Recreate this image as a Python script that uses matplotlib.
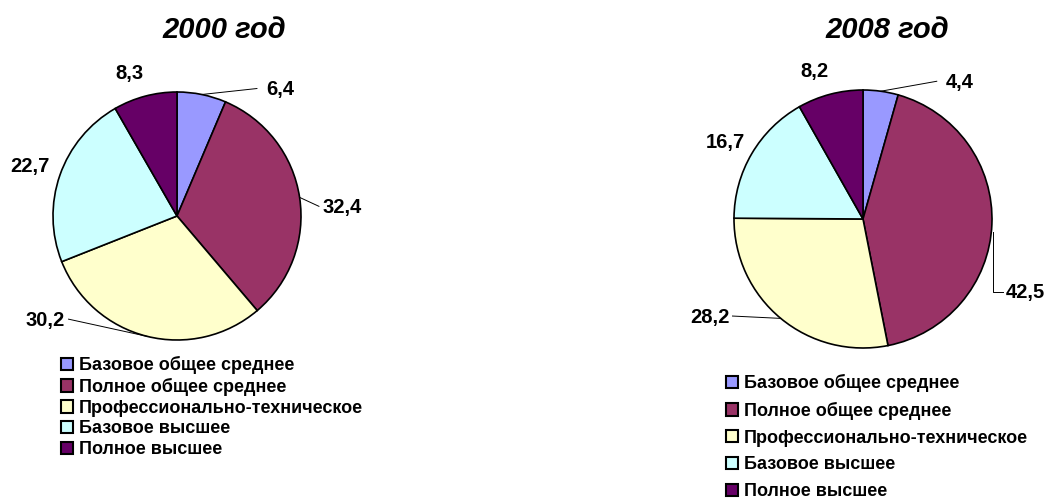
import numpy as np
import matplotlib
matplotlib.use("Agg")
import matplotlib.pyplot as plt

plt.rcParams['font.family'] = ['Liberation Sans', 'DejaVu Sans']
plt.rcParams['font.weight'] = 'bold'

categories = ['Базовое общее среднее', 'Полное общее среднее',
              'Профессионально-техническое', 'Базовое высшее', 'Полное высшее']
vals_2000 = [6.4, 32.4, 30.2, 22.7, 8.3]
vals_2008 = [4.4, 42.5, 28.2, 16.7, 8.2]
titles = ['2000 год', '2008 год']
colors = ['#9999FF', '#993366', '#FFFFCC', '#CCFFFF', '#660066']

W, H = 1050, 498
fig = plt.figure(figsize=(W / 100, H / 100), dpi=100)
ax = fig.add_axes([0, 0, 1, 1])
ax.set_xlim(0, W)
ax.set_ylim(0, H)
ax.axis('off')

# layout in pixels (y from top), label offsets in radius units
# lead: None = no leader, 'line' = straight, 'elbow' = vertical then horizontal
layout = [
    dict(c=(177, 216), r=124, title=(224, 30),
         lab=[(0.83, 1.02), (1.33, 0.07), (-1.06, -0.84), (-1.19, 0.40), (-0.38, 1.15)],
         lead=['line', 'line', 'line', None, None],
         leg=(61, 356), spacing=0.21),
    dict(c=(863, 219), r=129, title=(887, 30),
         lab=[(0.75, 1.06), (1.26, -0.57), (-1.19, -0.76), (-1.07, 0.59), (-0.38, 1.14)],
         lead=['line', 'elbow', 'line', None, None],
         leg=(726, 374), spacing=0.54),
]

legends = []
for vals, title, L in zip([vals_2000, vals_2008], titles, layout):
    cx, cy = L['c'][0], H - L['c'][1]
    r = L['r']
    wedges, _ = ax.pie(vals, colors=colors, startangle=90, counterclock=False,
                       center=(cx, cy), radius=r, frame=True,
                       wedgeprops=dict(edgecolor='black', linewidth=1.2))
    ax.text(L['title'][0], H - L['title'][1], title, ha='center', va='center',
            fontsize=21, fontstyle='italic', fontweight='bold')
    total = sum(vals)
    start = 0.0
    for v, (lx, ly), lead in zip(vals, L['lab'], L['lead']):
        mid = np.deg2rad(90 - 360 * (start + v / 2) / total)
        start += v
        tx, ty = cx + lx * r, cy + ly * r
        txt = '{:.1f}'.format(v).replace('.', ',')
        ax.text(tx, ty, txt, ha='center', va='center', fontsize=14.5, fontweight='bold')
        if lead is None:
            continue
        ex, ey = cx + r * np.cos(mid), cy + r * np.sin(mid)
        side = -1 if tx > cx else 1
        if lead == 'elbow':
            xs = [ex + 1, ex + 1, tx + side * 23]
            ys = [ey - 8, ty + 1, ty + 1]
        else:
            xs = [ex, tx + side * 23]
            ys = [ey, ty + 1]
        ax.plot(xs, ys, color='black', lw=0.7)
    ax.set_xlim(0, W)
    ax.set_ylim(0, H)
    leg = ax.legend(wedges, categories, loc='upper left',
                    bbox_to_anchor=(L['leg'][0] / W, 1 - L['leg'][1] / H),
                    bbox_transform=fig.transFigure, frameon=False,
                    borderpad=0, borderaxespad=0, handlelength=0.68, handleheight=0.68,
                    handletextpad=0.3, labelspacing=L['spacing'],
                    prop=dict(size=13, weight='bold'))
    for h in leg.legend_handles:
        h.set_linewidth(1.5)
    legends.append(leg)

ax.add_artist(legends[0])
ax.set_aspect('equal')
fig.savefig('out.png', dpi=100)
